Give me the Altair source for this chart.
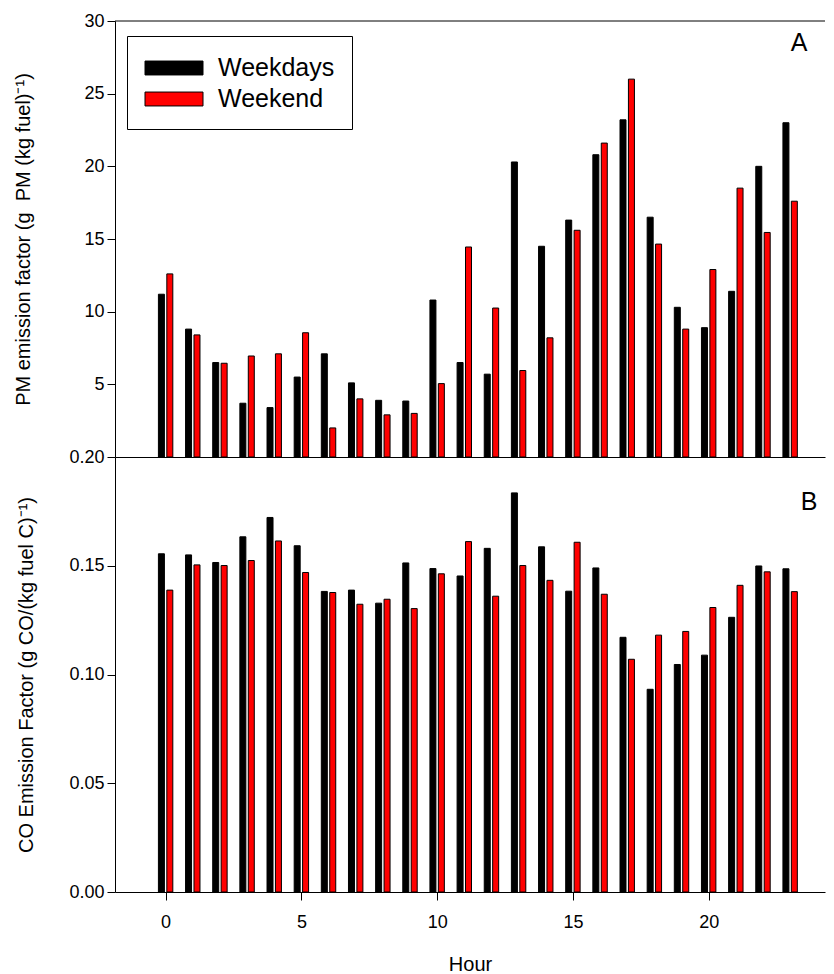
import altair as alt
import pandas as pd

FONT = "Liberation Sans"

hours = list(range(24))
series = ["Weekdays", "Weekend"]
colours = ["black", "#ff0000"]

pm_weekdays = [11.2, 8.8, 6.5, 3.7, 3.4, 5.5, 7.1, 5.1, 3.9, 3.85, 10.8, 6.5,
               5.7, 20.3, 14.5, 16.3, 20.8, 23.2, 16.5, 10.3, 8.9, 11.4, 20.0, 23.0]
pm_weekend = [12.6, 8.4, 6.45, 6.95, 7.1, 8.55, 2.0, 4.0, 2.9, 3.0, 5.05, 14.45,
              10.25, 5.95, 8.2, 15.6, 21.6, 26.0, 14.65, 8.8, 12.9, 18.5, 15.45, 17.6]
co_weekdays = [0.1555, 0.1550, 0.1515, 0.1633, 0.1722, 0.1592, 0.1382, 0.1388,
               0.1328, 0.1513, 0.1487, 0.1453, 0.1580, 0.1835, 0.1587, 0.1383,
               0.1490, 0.1171, 0.0932, 0.1046, 0.1089, 0.1263, 0.1499, 0.1486]
co_weekend = [0.1388, 0.1504, 0.1501, 0.1524, 0.1614, 0.1469, 0.1377, 0.1323,
              0.1346, 0.1303, 0.1463, 0.1611, 0.1360, 0.1501, 0.1433, 0.1608,
              0.1369, 0.1070, 0.1181, 0.1198, 0.1308, 0.1410, 0.1472, 0.1381]

rows = []
for i, h in enumerate(hours):
    rows.append({"Hour": h, "Series": series[0], "PM": pm_weekdays[i], "CO": co_weekdays[i]})
    rows.append({"Hour": h, "Series": series[1], "PM": pm_weekend[i], "CO": co_weekend[i]})
df = pd.DataFrame(rows)

W = 710
x_scale = alt.Scale(domain=[-1.68, 24.1], nice=False, zero=False)
colour_scale = alt.Scale(domain=series, range=colours)


def bars(value, y_scale, y_axis, x_axis, legend):
    return alt.Chart(df).transform_calculate(
        pos="datum.Series == 'Weekdays' ? datum.Hour - 0.155 : datum.Hour + 0.155"
    ).mark_bar(size=6, stroke="black", strokeWidth=1).encode(
        x=alt.X("pos:Q", scale=x_scale, axis=x_axis),
        y=alt.Y(f"{value}:Q", scale=y_scale, axis=y_axis),
        color=alt.Color("Series:N", scale=colour_scale, legend=legend),
    )


def corner_label(text, x, y):
    return alt.Chart(pd.DataFrame({"t": [text]})).mark_text(
        font=FONT, fontSize=25, align="center", baseline="middle", color="black"
    ).encode(text="t:N", x=alt.value(x), y=alt.value(y))


top_border = alt.Chart(pd.DataFrame({"t": [0]})).mark_rule(color="black", strokeWidth=1).encode(
    x=alt.value(0), x2=alt.value(W), y=alt.value(0)
)

# wide swatch drawn past its nominal symbol box, so entries stay compact
legend = alt.Legend(
    title=None, orient="none", legendX=12, legendY=15,
    symbolType="M-2,-0.48H2V0.48H-2Z", symbolSize=841, symbolOffset=15,
    symbolStrokeColor="black", symbolStrokeWidth=1,
    labelFont=FONT, labelFontSize=25, labelColor="black", labelOffset=29,
    strokeColor="black", fillColor="white", padding=17, rowPadding=3,
)

no_labels = dict(title=None, labels=False, ticks=False)

top = alt.layer(
    bars(
        "PM",
        alt.Scale(domain=[0, 30], nice=False),
        alt.Axis(title="PM emission factor (g\u00a0 PM (kg fuel)⁻¹)", values=[5, 10, 15, 20, 25, 30],
                 titlePadding=50),
        alt.Axis(**no_labels),
        legend,
    ),
    top_border,
    corner_label("A", 684, 22),
).properties(width=W, height=436)

bottom = alt.layer(
    bars(
        "CO",
        alt.Scale(domain=[0, 0.2], nice=False),
        alt.Axis(title="CO Emission Factor (g CO/(kg fuel C)⁻¹)", format=".2f",
                 values=[0, 0.05, 0.10, 0.15, 0.20], titlePadding=32),
        alt.Axis(title="Hour", values=[0, 5, 10, 15, 20], labelPadding=13, titlePadding=23),
        None,
    ),
    corner_label("B", 694, 45),
).properties(width=W, height=435)

chart = alt.vconcat(top, bottom, spacing=0, bounds="flush").properties(
    padding={"left": 5, "top": 4, "right": 0, "bottom": 0}
).configure_view(stroke=None).configure_axis(
    labelFont=FONT, titleFont=FONT, labelFontSize=18, titleFontSize=20,
    labelColor="black", titleColor="black", titleFontWeight="normal",
    domainColor="black", tickColor="black", tickSize=8, grid=False, labelPadding=3,
)

chart.save("out.html", embed_options={"renderer": "svg", "actions": False})
